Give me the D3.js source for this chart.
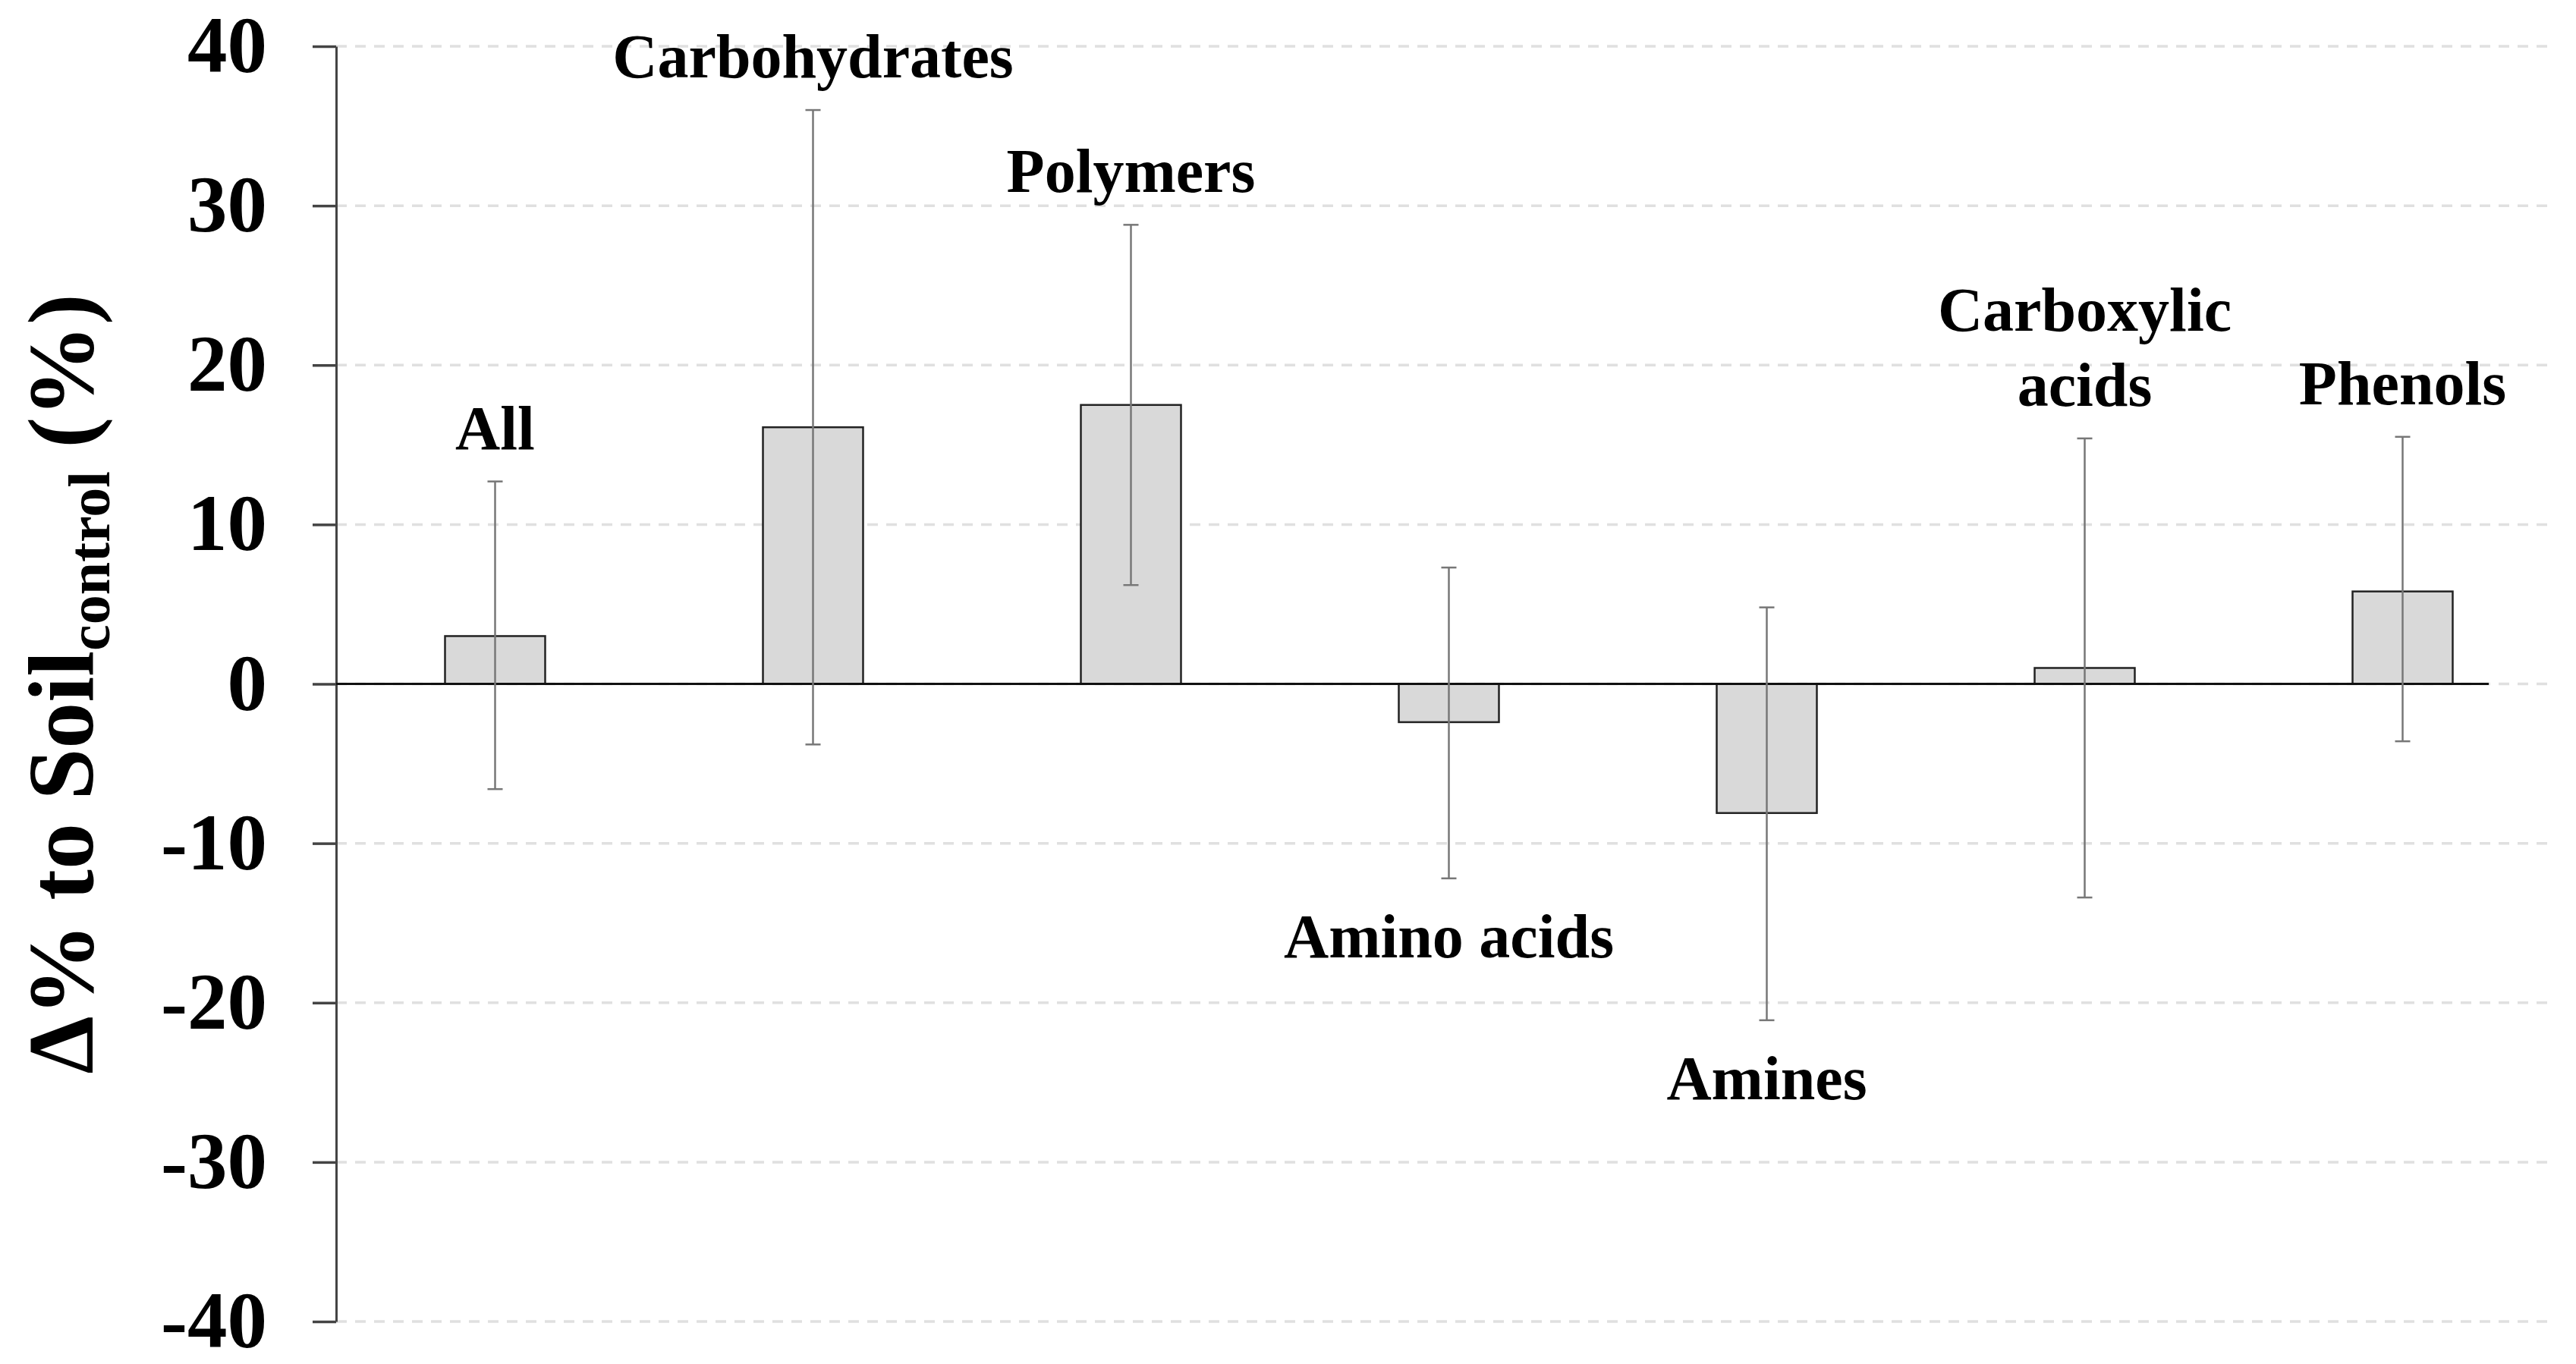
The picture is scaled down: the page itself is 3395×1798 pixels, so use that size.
<!DOCTYPE html>
<html>
<head>
<meta charset="utf-8">
<script src="https://cdn.jsdelivr.net/npm/d3@7.9.0/dist/d3.min.js"></script>
<style>
  html, body { margin: 0; padding: 0; background: #fff; }
  svg { display: block; }
  text { font-family: "Liberation Serif", "Times New Roman", serif; font-weight: bold; fill: #000; }
</style>
</head>
<body>
<svg id="chart" width="3395" height="1798"></svg>
<script>
const categories = ["All", "Carbohydrates", "Polymers", "Amino acids", "Amines", "Carboxylic acids", "Phenols"];
const means = [3.0, 16.1, 17.5, -2.4, -8.1, 1.0, 5.8];
const errHigh = [12.7, 36.0, 28.8, 7.3, 4.8, 15.4, 15.5];
const errLow = [-6.6, -3.8, 6.2, -12.2, -21.1, -13.4, -3.6];
const labelLines = [["All"], ["Carbohydrates"], ["Polymers"], ["Amino acids"], ["Amines"], ["Carboxylic", "acids"], ["Phenols"]];
const labelSide = ["above", "above", "above", "below", "below", "above", "above"];
const yTicks = [40, 30, 20, 10, 0, -10, -20, -30, -40];

const rows = categories.map((name, i) => ({
  name,
  mean: means[i],
  high: errHigh[i],
  low: errLow[i],
  lines: labelLines[i],
  side: labelSide[i],
}));

const svg = d3.select("#chart");

const x = d3.scaleBand()
  .domain(categories)
  .range([443, 3376])
  .paddingInner(0.685)
  .paddingOuter(0.3425);

const y = d3.scaleLinear()
  .domain([-40, 40])
  .range([1742, 61]);

const cx = (d) => x(d.name) + x.bandwidth() / 2;

// dashed grid
svg.append("g")
  .selectAll("line")
  .data(yTicks)
  .join("line")
  .attr("x1", 443)
  .attr("x2", x.range()[1] - 13)
  .attr("y1", (d) => y(d))
  .attr("y2", (d) => y(d))
  .attr("stroke", "#e0e0e0")
  .attr("stroke-width", 3.5)
  .attr("stroke-dasharray", "14 11");

// y axis
const yAxis = svg.append("g")
  .attr("transform", "translate(443,0)")
  .call(
    d3.axisLeft(y)
      .tickValues(yTicks)
      .tickSize(31)
      .tickSizeOuter(0)
      .tickPadding(60)
      .tickFormat((d) => String(d))
  );

yAxis.select(".domain").attr("stroke", "#444").attr("stroke-width", 3);
yAxis.selectAll(".tick line").attr("stroke", "#444").attr("stroke-width", 3.5);
yAxis.selectAll(".tick text")
  .attr("font-family", "Liberation Serif, Times New Roman, serif")
  .attr("font-weight", "bold")
  .attr("font-size", 105)
  .attr("fill", "#000");

// bars
svg.append("g")
  .selectAll("rect")
  .data(rows)
  .join("rect")
  .attr("x", (d) => x(d.name))
  .attr("width", x.bandwidth())
  .attr("y", (d) => y(Math.max(0, d.mean)))
  .attr("height", (d) => Math.abs(y(d.mean) - y(0)))
  .attr("fill", "#d9d9d9")
  .attr("stroke", "#222")
  .attr("stroke-width", 2.5);

// zero line
svg.append("line")
  .attr("x1", 443)
  .attr("x2", x.range()[1] - 96)
  .attr("y1", y(0))
  .attr("y2", y(0))
  .attr("stroke", "#111")
  .attr("stroke-width", 3);

// error bars
const err = svg.append("g")
  .attr("stroke", "#777")
  .attr("stroke-width", 2.5);

err.selectAll(".stem")
  .data(rows)
  .join("line")
  .attr("class", "stem")
  .attr("x1", cx)
  .attr("x2", cx)
  .attr("y1", (d) => y(d.high))
  .attr("y2", (d) => y(d.low));

err.selectAll(".cap")
  .data(rows.flatMap((d) => [{ d, v: d.high }, { d, v: d.low }]))
  .join("line")
  .attr("class", "cap")
  .attr("x1", (c) => cx(c.d) - 10)
  .attr("x2", (c) => cx(c.d) + 10)
  .attr("y1", (c) => y(c.v))
  .attr("y2", (c) => y(c.v));

// category labels
const lineGap = 99;
const labels = svg.append("g")
  .selectAll("text")
  .data(rows)
  .join("text")
  .attr("text-anchor", "middle")
  .attr("font-size", 82)
  .attr("x", cx)
  .attr("y", (d) =>
    d.side === "above"
      ? y(d.high) - 43 - (d.lines.length - 1) * lineGap
      : y(d.low) + 104
  );

labels.selectAll("tspan")
  .data((d) => d.lines.map((t, i) => ({ t, i, d })))
  .join("tspan")
  .attr("x", (l) => cx(l.d))
  .attr("dy", (l) => (l.i === 0 ? 0 : lineGap))
  .text((l) => l.t);

// y axis title
const title = svg.append("text")
  .attr("transform", `translate(122,${(y(40) + y(-40)) / 2}) rotate(-90)`)
  .attr("text-anchor", "middle")
  .attr("font-size", 122);

title.append("tspan").text("Δ% to Soil");
title.append("tspan").attr("font-size", 78).attr("dy", 22).text("control");
title.append("tspan").attr("dy", -22).text(" (%)");
</script>
</body>
</html>
